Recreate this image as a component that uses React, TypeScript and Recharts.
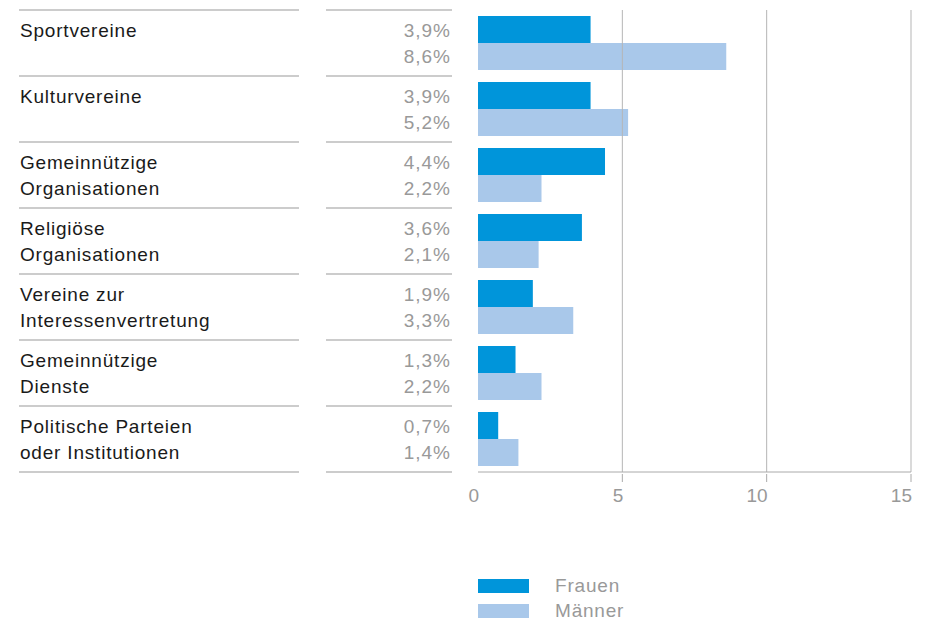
import { Bar, BarChart, ReferenceLine, XAxis, YAxis } from 'recharts'

const categories = [
  'Sportvereine',
  'Kulturvereine',
  'Gemeinnützige\nOrganisationen',
  'Religiöse\nOrganisationen',
  'Vereine zur\nInteressenvertretung',
  'Gemeinnützige\nDienste',
  'Politische Parteien\noder Institutionen',
]
const frauen = [3.9, 3.9, 4.4, 3.6, 1.9, 1.3, 0.7]
const maenner = [8.6, 5.2, 2.2, 2.1, 3.3, 2.2, 1.4]
const xTicks = [0, 5, 10, 15]

const FONT = '"Liberation Sans", Arial, sans-serif'
const BLUE = '#0095da'
const LIGHT = '#a9c8ea'
const GREY = '#999999'
const BAND = 66

const data = categories.map((name, i) => ({ name, frauen: frauen[i], maenner: maenner[i] }))

const fmt = (v: number) => `${v.toFixed(1).replace('.', ',')}%`

function CategoryTick({ x, y, payload }: any) {
  const i = payload.index
  const lines = String(payload.value).split('\n')
  const top = y - BAND / 2
  return (
    <g>
      <line x1={19} x2={299} y1={top} y2={top} stroke={GREY} />
      <line x1={326} x2={452} y1={top} y2={top} stroke={GREY} />
      {i === categories.length - 1 && (
        <>
          <line x1={19} x2={299} y1={top + BAND} y2={top + BAND} stroke={GREY} />
          <line x1={326} x2={452} y1={top + BAND} y2={top + BAND} stroke={GREY} />
        </>
      )}
      {lines.map((l, k) => (
        <text key={k} x={20} y={y - 6 + k * 26} fill="#1a1a1a" fontSize={19} fontFamily={FONT} letterSpacing={0.8}>
          {l}
        </text>
      ))}
      <text x={451} y={y - 6} textAnchor="end" fill={GREY} fontSize={19} fontFamily={FONT} letterSpacing={1}>
        {fmt(frauen[i])}
      </text>
      <text x={451} y={y + 20} textAnchor="end" fill={GREY} fontSize={19} fontFamily={FONT} letterSpacing={1}>
        {fmt(maenner[i])}
      </text>
    </g>
  )
}

function ValueTick({ x, y, payload }: any) {
  return (
    <g>
      {payload.value !== 0 && <line x1={x} x2={x} y1={y - 8} y2={y} stroke="#aaaaaa" />}
      <text x={x + 1} y={y + 20} textAnchor="end" fill={GREY} fontSize={19} fontFamily={FONT}>
        {payload.value}
      </text>
    </g>
  )
}

export default function App() {
  const legend = [
    { name: 'Frauen', color: BLUE },
    { name: 'Männer', color: LIGHT },
  ]
  return (
    <div style={{ position: 'absolute', left: 0, top: 0, width: 929, height: 620, background: '#fff' }}>
      <BarChart
        width={929}
        height={620}
        data={data}
        layout="vertical"
        margin={{ top: 10, right: 18, left: 0, bottom: 108 }}
        barSize={27}
        barGap={0}
      >
        <XAxis
          type="number"
          domain={[0, 15]}
          ticks={xTicks}
          height={40}
          stroke="#aaaaaa"
          tickLine={false}
          tickSize={8}
          tick={<ValueTick />}
        />
        <YAxis
          type="category"
          dataKey="name"
          width={478}
          axisLine={false}
          tickLine={false}
          tick={<CategoryTick />}
          interval={0}
        />
        {xTicks.filter((t) => t > 0).map((t) => (
          <ReferenceLine key={t} x={t} stroke="#b5b5b5" strokeWidth={1} />
        ))}
        <Bar dataKey="frauen" name="Frauen" fill={BLUE} isAnimationActive={false} />
        <Bar dataKey="maenner" name="Männer" fill={LIGHT} isAnimationActive={false} />
      </BarChart>
      {legend.map((s, i) => (
        <div key={s.name} style={{ position: 'absolute', left: 478, top: 579 + i * 25, display: 'flex', alignItems: 'center' }}>
          <div style={{ width: 51, height: 14, background: s.color }} />
          <span style={{ marginLeft: 26, color: GREY, fontFamily: FONT, fontSize: 19, lineHeight: '14px', letterSpacing: 0.8 }}>
            {s.name}
          </span>
        </div>
      ))}
    </div>
  )
}
